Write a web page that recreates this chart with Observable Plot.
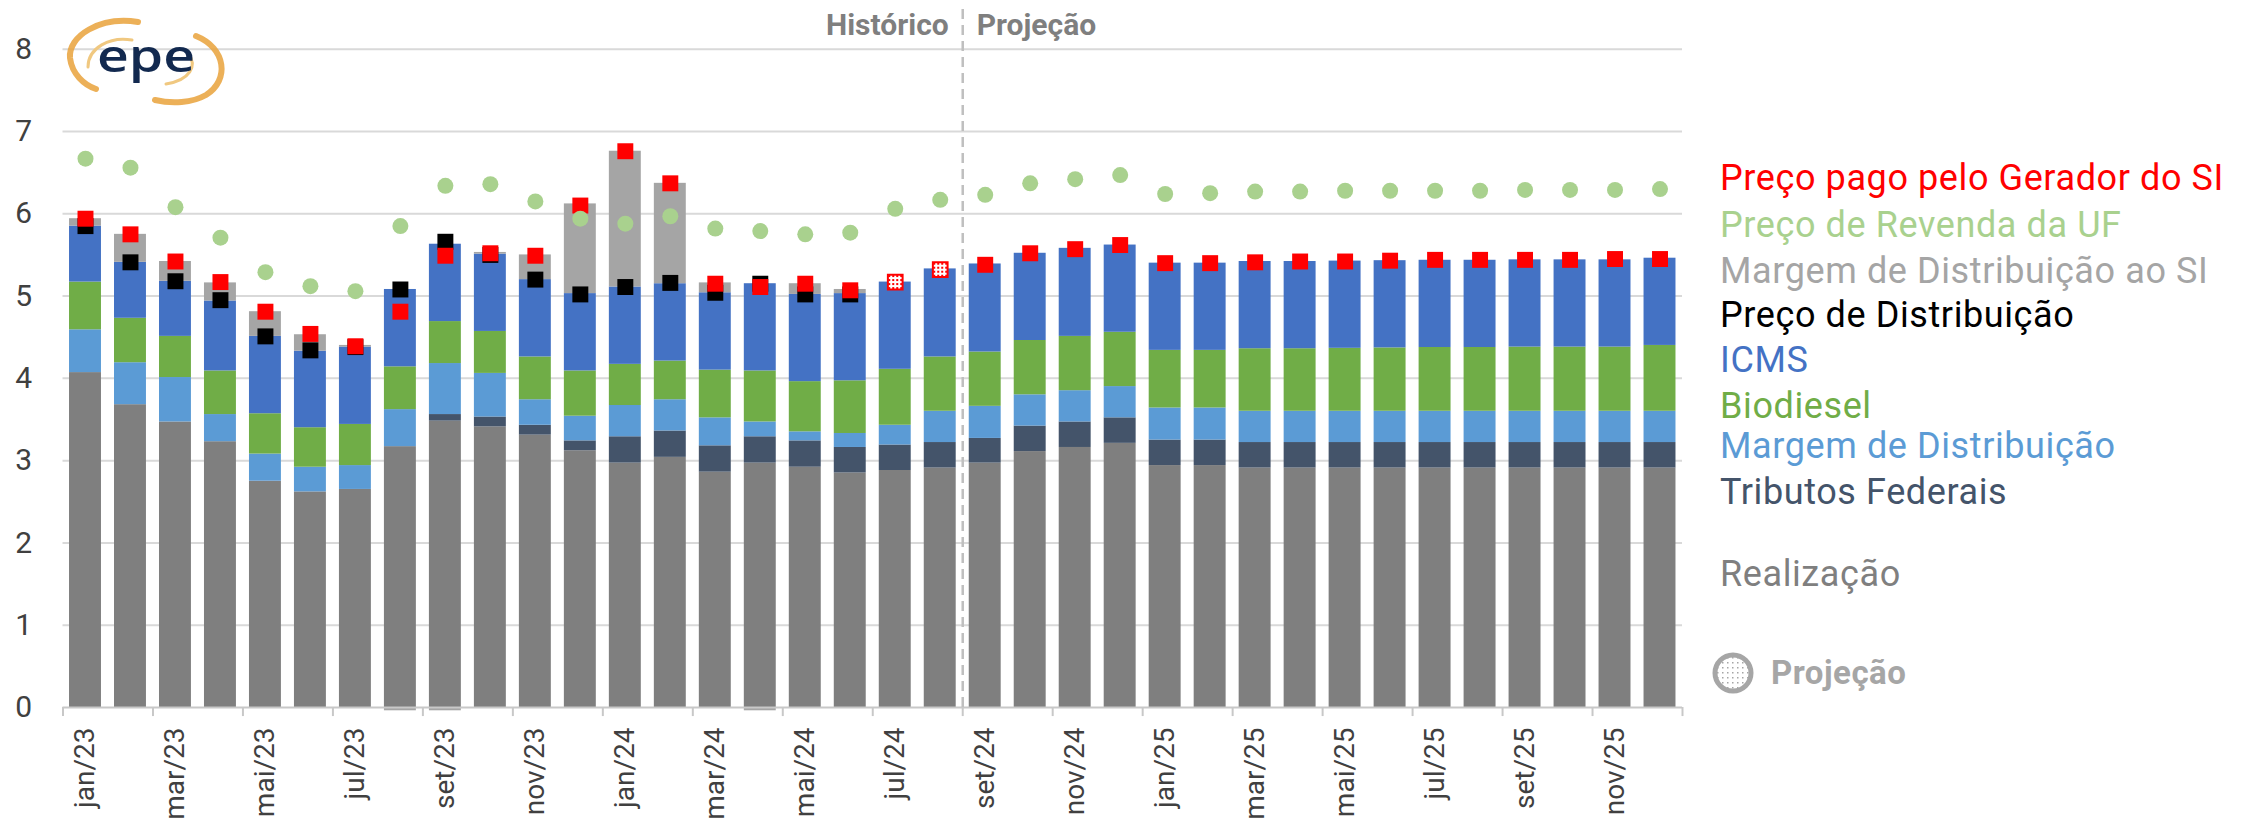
<!DOCTYPE html>
<html><head><meta charset="utf-8">
<script src="https://cdn.jsdelivr.net/npm/d3@7"></script>
<script src="https://cdn.jsdelivr.net/npm/@observablehq/plot@0.6"></script>
<style>
body{margin:0;background:#fff;font-family:Roboto,sans-serif;}
#wrap{position:relative;width:2252px;height:821px;overflow:hidden;}
#chart{position:absolute;left:0;top:0;}
#legend{position:absolute;left:1700px;top:0;}
#logo{position:absolute;left:0;top:0;}
</style></head><body>
<div id="wrap"><div id="chart"></div>
<svg id="legend" width="552" height="821"></svg>
<svg id="logo" width="300" height="130"></svg>
</div>
<script>
// ---------------- DATA ----------------
const months = ["jan/23","fev/23","mar/23","abr/23","mai/23","jun/23","jul/23","ago/23","set/23","out/23","nov/23","dez/23",
                "jan/24","fev/24","mar/24","abr/24","mai/24","jun/24","jul/24","ago/24","set/24","out/24","nov/24","dez/24",
                "jan/25","fev/25","mar/25","abr/25","mai/25","jun/25","jul/25","ago/25","set/25","out/25","nov/25","dez/25"];
const realizacao = [4.07,3.68,3.47,3.23,2.75,2.62,2.65,3.17,3.48,3.41,3.31,3.12,
                    2.97,3.04,2.86,2.97,2.92,2.85,2.88,2.91,2.97,3.11,3.16,3.21,
                    2.94,2.94,2.91,2.91,2.91,2.91,2.91,2.91,2.91,2.91,2.91,2.91];
const tributosFederais = [0,0,0,0,0,0,0,0,0.08,0.12,0.12,0.12,
                          0.32,0.32,0.32,0.32,0.32,0.31,0.31,0.31,0.30,0.31,0.31,0.31,
                          0.31,0.31,0.31,0.31,0.31,0.31,0.31,0.31,0.31,0.31,0.31,0.31];
const margemDistribuicao = [0.52,0.51,0.54,0.33,0.33,0.30,0.29,0.45,0.62,0.53,0.31,0.30,
                            0.38,0.38,0.34,0.18,0.11,0.17,0.24,0.38,0.39,0.38,0.38,0.38,
                            0.39,0.39,0.38,0.38,0.38,0.38,0.38,0.38,0.38,0.38,0.38,0.38];
const biodiesel = [0.58,0.54,0.50,0.53,0.49,0.48,0.50,0.52,0.51,0.51,0.52,0.55,
                   0.50,0.47,0.58,0.62,0.61,0.64,0.68,0.66,0.66,0.66,0.66,0.66,
                   0.70,0.70,0.76,0.76,0.765,0.77,0.775,0.775,0.78,0.78,0.78,0.80];
const icms = [0.68,0.68,0.67,0.85,0.94,0.93,0.94,0.94,0.94,0.94,0.94,0.94,
              0.94,0.94,0.94,1.06,1.06,1.06,1.06,1.07,1.07,1.06,1.07,1.06,
              1.06,1.06,1.06,1.06,1.06,1.06,1.06,1.06,1.06,1.06,1.06,1.06];
const margemDistribuicaoSI = [0.09,0.34,0.24,0.22,0.30,0.20,0.02,-0.04,-0.04,0.02,0.30,1.09,
                              1.65,1.22,0.12,-0.04,0.13,0.05,0,0,0,0,0,0,
                              0,0,0,0,0,0,0,0,0,0,0,0];
const precoDistribuicao = [5.85,5.41,5.18,4.95,4.51,4.34,4.38,5.08,5.66,5.50,5.20,5.02,
                           5.11,5.16,5.04,5.15,5.02,5.02,null,null,null,null,null,null,
                           null,null,null,null,null,null,null,null,null,null,null,null];
const precoGeradorSI = [5.94,5.75,5.42,5.17,4.81,4.54,4.39,4.81,5.49,5.52,5.49,6.10,
                        6.76,6.37,5.15,5.11,5.15,5.07,5.17,5.32,5.38,5.52,5.57,5.62,
                        5.40,5.40,5.41,5.42,5.42,5.43,5.44,5.44,5.44,5.44,5.45,5.45];
const precoRevendaUF = [6.67,6.56,6.08,5.71,5.29,5.12,5.06,5.85,6.34,6.36,6.15,5.94,
                        5.88,5.97,5.82,5.79,5.75,5.77,6.06,6.17,6.23,6.37,6.42,6.47,
                        6.24,6.25,6.27,6.27,6.28,6.28,6.28,6.28,6.29,6.29,6.29,6.30];
const projecaoMarkers = ["jul/24","ago/24"];
const boundaryMonth = "set/24";
const yTicks = [0,1,2,3,4,5,6,7,8];
const labelMonths = months.filter((d,i) => i % 2 === 0);

const seriesNames = ["Realização","Tributos Federais","Margem de Distribuição","Biodiesel","ICMS","Margem de Distribuição ao SI"];
const seriesValues = [realizacao, tributosFederais, margemDistribuicao, biodiesel, icms, margemDistribuicaoSI];
const seriesColors = ["#7f7f7f","#44546a","#5b9bd5","#70ad47","#4472c4","#a5a5a5"];

const legendLabels = ["Preço pago pelo Gerador do SI","Preço de Revenda da UF","Margem de Distribuição ao SI","Preço de Distribuição","ICMS","Biodiesel","Margem de Distribuição","Tributos Federais","Realização"];
const legendColors = ["#ff0000","#a9d18e","#a5a5a5","#000000","#4472c4","#70ad47","#5b9bd5","#44546a","#7f7f7f"];
const projecaoLabel = "Projeção";
const headerLeft = "Histórico";
const headerRight = "Projeção";

// ---------------- TABLES ----------------
const stackTable = [];
seriesNames.forEach((s, k) => months.forEach((m, i) => stackTable.push({month: m, serie: s, value: seriesValues[k][i]})));
const distRows = months.map((m,i) => ({month: m, v: precoDistribuicao[i]})).filter(d => d.v != null);
const redRows = months.map((m,i) => ({month: m, v: precoGeradorSI[i], proj: projecaoMarkers.includes(m)}));
const greenRows = months.map((m,i) => ({month: m, v: precoRevendaUF[i]}));

// ---------------- LAYOUT ----------------
const W = 1700, H = 821, mL = 62.5, mR = 18, mT = 48.7, mB = 114;
const step = (W - mL - mR) / months.length;

const chart = Plot.plot({
  width: W, height: H,
  marginLeft: mL, marginRight: mR, marginTop: mT, marginBottom: mB,
  style: {fontFamily: "Roboto, sans-serif", background: "white", overflow: "visible"},
  x: {domain: months, paddingInner: 0.29, paddingOuter: 0.145, axis: null},
  y: {domain: [0, 8], axis: null},
  color: {domain: seriesNames, range: seriesColors},
  marks: [
    Plot.ruleY(yTicks.filter(d => d > 0), {stroke: "#d9d9d9", strokeWidth: 2}),
    Plot.barY(stackTable, {x: "month", y: "value", fill: "serie"}),
    Plot.ruleY([0], {stroke: "#c8c8c8", strokeWidth: 2}),
    Plot.ruleX(labelMonths, {x: d => d, y1: 0, y2: -0.11, dx: -step/2, stroke: "#c8c8c8", strokeWidth: 2}),
    Plot.ruleX([months[months.length-1]], {x: d => d, y1: 0, y2: -0.11, dx: step/2, stroke: "#c8c8c8", strokeWidth: 2}),
    Plot.ruleX([boundaryMonth], {x: d => d, y1: 0, y2: 8.53, dx: -step/2, stroke: "#bfbfbf", strokeWidth: 2.5, strokeDasharray: "10,6"}),
    Plot.dot(distRows, {x: "month", y: "v", symbol: "square", r: 9, fill: "#000000"}),
    Plot.dot(redRows.filter(d => !d.proj), {x: "month", y: "v", symbol: "square", r: 9, fill: "#ff0000"}),
    Plot.dot(redRows.filter(d => d.proj), {x: "month", y: "v", symbol: "square", r: 8.3, fill: "url(#redDots)", stroke: "#ff0000", strokeWidth: 2}),
    Plot.dot(greenRows, {x: "month", y: "v", r: 8, fill: "#a9d18e"}),
    Plot.axisY({ticks: yTicks, tickSize: 0, tickPadding: 31, fontSize: 30, fill: "#404040", label: null}),
    Plot.axisX({ticks: labelMonths, tickSize: 0, tickPadding: 20, tickRotate: -90, fontSize: 28, fill: "#404040", label: null, style: {letterSpacing: "0.5px"}}),
    Plot.text([boundaryMonth], {x: d => d, y: () => 8, text: () => headerLeft, dx: -step/2 - 14, dy: -24.3, textAnchor: "end", fontSize: 30, fontWeight: "bold", fill: "#7f7f7f"}),
    Plot.text([boundaryMonth], {x: d => d, y: () => 8, text: () => headerRight, dx: -step/2 + 14, dy: -24.3, textAnchor: "start", fontSize: 30, fontWeight: "bold", fill: "#7f7f7f"})
  ]
});
chart.insertAdjacentHTML("afterbegin",
  `<defs><pattern id="redDots" width="4" height="4" patternUnits="userSpaceOnUse">
     <rect width="4" height="4" fill="#ffffff"/><rect x="1" y="1" width="2" height="2" fill="#ff0000"/></pattern></defs>`);
document.getElementById("chart").appendChild(chart);

// ---------------- LEGEND ----------------
const leg = d3.select("#legend");
leg.append("defs").html(`<pattern id="grayDots" width="5" height="5" patternUnits="userSpaceOnUse">
   <rect width="5" height="5" fill="#ffffff"/><rect x="2" y="2" width="1.5" height="1.5" fill="#a6a6a6"/></pattern>`);
const baselines = [190, 237, 283, 327, 372, 418, 458, 504, 586];
leg.selectAll("text.item").data(legendLabels).join("text")
  .attr("class","item")
  .attr("x", 20).attr("y", (d,i) => baselines[i])
  .attr("font-family","Roboto, sans-serif").attr("font-size", 36)
  .attr("letter-spacing", "0.6px")
  .attr("fill", (d,i) => legendColors[i])
  .text(d => d);
leg.append("circle").attr("cx", 33).attr("cy", 673).attr("r", 18)
  .attr("fill","url(#grayDots)").attr("stroke","#a6a6a6").attr("stroke-width",5);
leg.append("text").attr("x", 71).attr("y", 684)
  .attr("font-family","Roboto, sans-serif").attr("font-size", 33).attr("font-weight","bold")
  .attr("letter-spacing", "0.5px")
  .attr("fill","#a6a6a6").text(projecaoLabel);

// ---------------- LOGO ----------------
const logo = d3.select("#logo");
logo.append("path").attr("d","M138,22 C100,16 68,36 70,58 C72,74 84,85 96,89").attr("fill","none").attr("stroke","#e9a23b").attr("stroke-width",6).attr("stroke-linecap","round").attr("opacity",0.85);
logo.append("path").attr("d","M132,40 C110,36 88,48 88,67").attr("fill","none").attr("stroke","#f0c880").attr("stroke-width",3).attr("stroke-linecap","round");
logo.append("path").attr("d","M196,36 C226,48 230,80 206,95 C192,103 172,104 155,100").attr("fill","none").attr("stroke","#e9a23b").attr("stroke-width",6).attr("stroke-linecap","round").attr("opacity",0.85);
logo.append("path").attr("d","M188,53 C198,66 190,80 166,84").attr("fill","none").attr("stroke","#f0c880").attr("stroke-width",3).attr("stroke-linecap","round");
logo.append("text").attr("x",97).attr("y",72).attr("font-family","Open Sans, sans-serif").attr("font-weight",600)
  .attr("font-size",46).attr("fill","#12294f").attr("textLength",98).attr("lengthAdjust","spacingAndGlyphs").text("epe");
</script>
</body></html>
